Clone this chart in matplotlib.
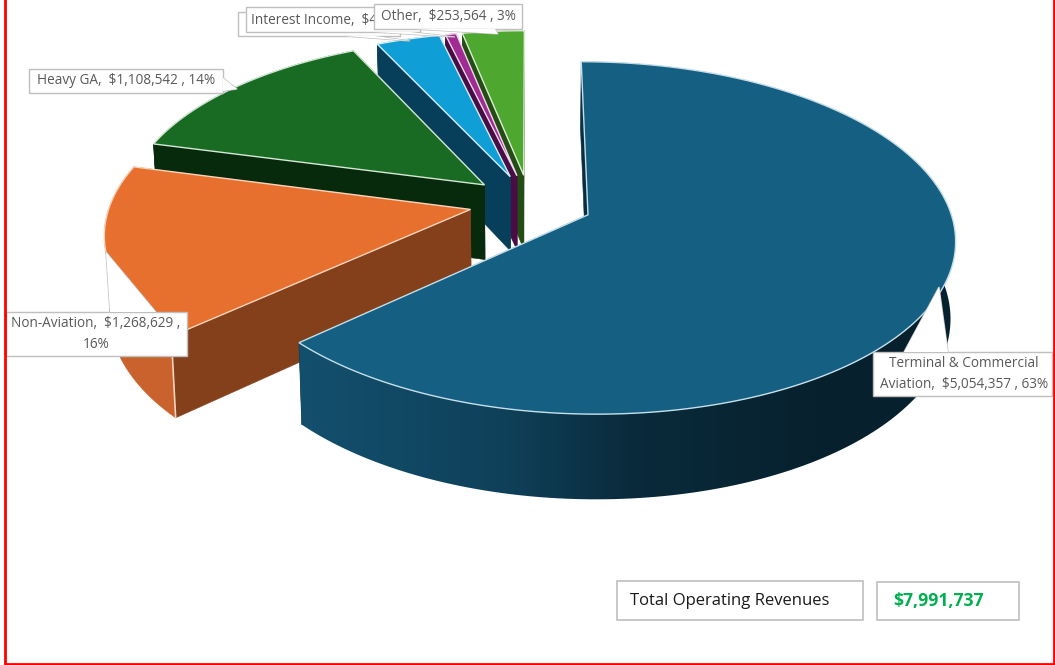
import numpy as np
import matplotlib
matplotlib.use('Agg')
import matplotlib.pyplot as plt
from matplotlib.colors import LinearSegmentedColormap
from matplotlib.patches import Polygon, Rectangle

# revenue by source, clockwise from 12 o'clock
names = ['Terminal & Commercial Aviation', 'Non-Aviation', 'Heavy GA', '', 'Interest Income', 'Other']
revenues = [5054357, 1268629, 1108542, 261645, 45000, 253564]
total_label = 'Total Operating Revenues'
total_value = 7991737

top_colors = ['#156082', '#e8702f', '#196b24', '#0f9ed5', '#a02b93', '#4ea72e']
wall_colors = ['#0a2c3e', '#84401a', '#082a0c', '#073f5a', '#4a0c45', '#234d14']
arc_colors = ['#07202e', '#c9622c', '#082a0c', '#073f5a', '#4a0c45', '#234d14']
edge_colors = ['#c5dfea', '#f7d3bc', '#d5e8d7', '#d5edf7', '#eedcec', '#dcefd5']
explode = [0.176, 0.168, 0.165, 0.165, 0.165, 0.165]

# camera for the tilted pie
cx, cy = 529.5, 202.6
rx, ry = 360.0, 170.0
persp = 0.13
depth = 75.5
shrink = 0.012


def project(u, v, z=0.0):
    s = 1.0 / (1.0 + persp * v)
    k = 1.0 - shrink * z
    return cx + rx * u * s * k, cy - ry * v * s * k + depth * s * z


fig = plt.figure(figsize=(10.55, 6.65), dpi=100)
ax = fig.add_axes([0, 0, 1, 1])

values = np.array(revenues, dtype=float)
edges = np.concatenate([[0], np.cumsum(values) / values.sum()]) * 2 * np.pi

# shading of the big slice's rim, left to right
rim_cmap = LinearSegmentedColormap.from_list('rim', [(0, '#13506e'), (0.32, '#0f4059'), (0.5, '#0a2b3c'), (0.8, '#07202d'), (1, '#07202d')])

# back slices first so the front ones sit on top
for i in [5, 4, 3, 2, 1, 0]:
    a0, a1 = edges[i], edges[i + 1]
    mid = (a0 + a1) / 2
    u0, v0 = explode[i] * np.sin(mid), explode[i] * np.cos(mid)
    th = np.linspace(a0, a1, 200)
    u = u0 + np.sin(th)
    v = v0 + np.cos(th)
    z = 2 + (5 - i)

    # radial walls
    for a in [a1, a0]:
        ue, ve = u0 + np.sin(a), v0 + np.cos(a)
        pts = [project(u0, v0), project(ue, ve), project(ue, ve, 1), project(u0, v0, 1)]
        ax.add_patch(Polygon(pts, closed=True, facecolor=wall_colors[i], edgecolor=wall_colors[i], lw=0.4, zorder=z))

    # outer wall
    tx, ty = project(u, v)
    bx, by = project(u, v, 1)
    rim = np.column_stack([np.concatenate([tx, bx[::-1]]), np.concatenate([ty, by[::-1]])])
    if i == 0:
        grad = np.linspace(0, 1, 256).reshape(1, -1)
        img = ax.imshow(grad, cmap=rim_cmap, extent=(296, 960, 510, 30), aspect='auto', zorder=z)
        img.set_clip_path(Polygon(rim, closed=True, transform=ax.transData))
    else:
        ax.add_patch(Polygon(rim, closed=True, facecolor=arc_colors[i], edgecolor=arc_colors[i], lw=0.4, zorder=z))

    # light line down the corner of the orange slice
    if i == 1:
        ue, ve = u0 + np.sin(a0), v0 + np.cos(a0)
        xs, ys = zip(project(ue, ve), project(ue, ve, 1))
        ax.plot(xs, ys, color=edge_colors[i], lw=1.2, zorder=z)

    # top face
    top = [project(u0, v0)] + list(zip(tx, ty))
    ax.add_patch(Polygon(top, closed=True, facecolor=top_colors[i], edgecolor=edge_colors[i], lw=1.0, zorder=z + 0.5))


# data labels with their callout boxes
def callout(box, tip, base, z, text=None, text_xy=None, ha='center'):
    x0, y0, x1, y1 = box
    if base[2] == 'right':
        pts = [(x1, base[0]), tip, (x1, base[1])]
    else:
        yb = y0 if base[2] == 'top' else y1
        pts = [(base[0], yb), tip, (base[1], yb)]
    ax.add_patch(Polygon(pts, closed=False, facecolor='white', edgecolor='#bfbfbf', lw=1.0, zorder=z))
    ax.add_patch(Rectangle((x0, y0), x1 - x0, y1 - y0, facecolor='white', edgecolor='#bfbfbf', lw=1.0, zorder=z + 0.1))
    ax.add_patch(Polygon(pts, closed=False, facecolor='white', edgecolor='none', zorder=z + 0.2))
    if text:
        ax.text(text_xy[0], text_xy[1], text, color='#595959', fontsize=9.8, family='Open Sans',
                ha=ha, va='center', linespacing=1.5, zorder=z + 0.3)


def label(i, wrap=None):
    pct = round(revenues[i] / total_value * 100)
    name = names[i]
    tail = f'${revenues[i]:,} , {pct}%'
    if wrap == 'name':
        return name.replace('& Commercial ', '& Commercial\n') + ',  ' + tail
    if wrap == 'pct':
        return f'{name},  ${revenues[i]:,} ,\n{pct}%'
    return f'{name},  {tail}'


callout((873, 352, 1052, 396), (939, 287), (904, 948, 'top'), 20, label(0, 'name'), (964, 374))
callout((6, 312, 187, 356), (106, 252), (110, 156, 'top'), 20, label(1, 'pct'), (96, 334))
callout((29, 69, 223, 93), (237, 89), (78, 91, 'right'), 20, label(2), (126, 81))
callout((238, 12, 400, 36), (410, 41), (345, 375, 'bottom'), 21)
callout((246, 7, 420, 32), (455, 37), (375, 410, 'bottom'), 22, label(4), (251, 20), ha='left')
callout((374, 4, 522, 29), (498, 34), (415, 495, 'bottom'), 23, label(5), (448, 17))

# summary boxes
ax.add_patch(Rectangle((617, 581), 246, 39, facecolor='white', edgecolor='#bfbfbf', lw=1.2, zorder=20))
ax.add_patch(Rectangle((877, 582), 142, 38, facecolor='white', edgecolor='#bfbfbf', lw=1.2, zorder=20))
ax.text(630, 601, total_label, fontsize=12, family='Open Sans', color='#1a1a1a', va='center', zorder=21)
ax.text(893, 601, f'${total_value:,}', fontsize=12.6, family='Open Sans', fontweight='bold', color='#00b050', va='center', zorder=21)

# frame
ax.plot([4.5, 4.5, 1054, 1054], [0, 663.5, 663.5, 0], color='#ff0000', lw=2, zorder=30)

ax.set_xlim(0, 1055)
ax.set_ylim(665, 0)
ax.axis('off')

fig.savefig('out.png', dpi=100)
